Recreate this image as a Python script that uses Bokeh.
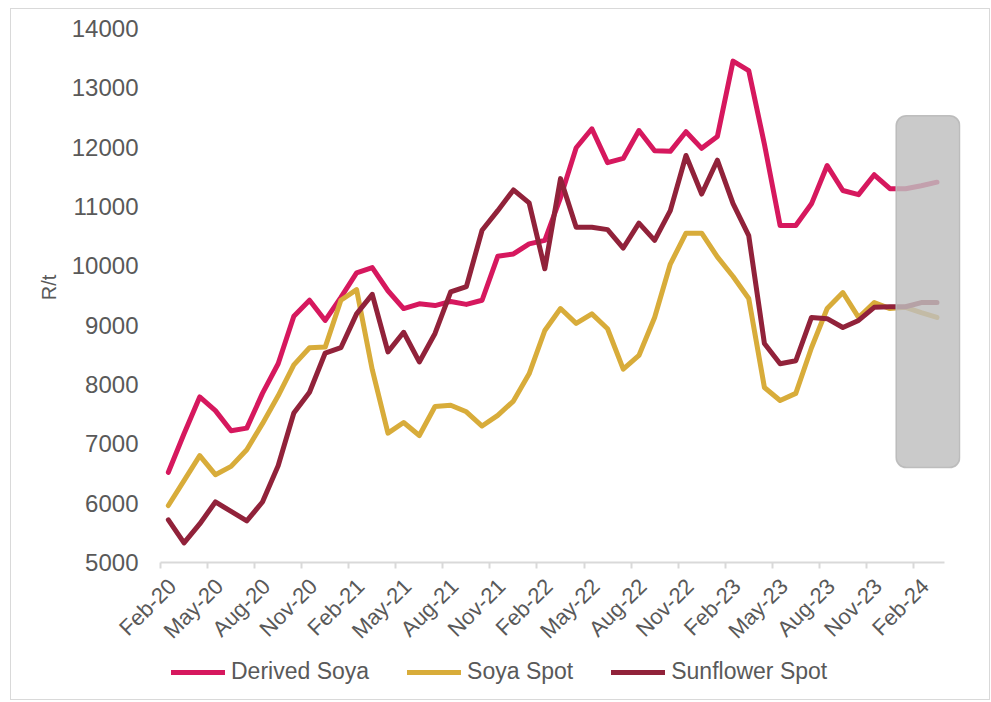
from math import pi
import pandas as pd
from bokeh.plotting import figure
from bokeh.models import FixedTicker, Legend, LegendItem, Range1d
from bokeh.core.properties import value
from bokeh.embed import file_html
from bokeh.resources import INLINE

# ---------------- data ----------------
months = [p.strftime("%b-%y") for p in pd.period_range("2020-02", "2024-03", freq="M")]

derived_soya = [6520, 7170, 7790, 7560, 7220, 7265, 7850, 8350, 9150, 9420,
                9080, 9470, 9880, 9970, 9580, 9280, 9360, 9330, 9400, 9350,
                9420, 10160, 10200, 10370, 10430, 11150, 11990, 12310, 11740, 11810,
                12280, 11940, 11930, 12260, 11980, 12180, 13450, 13290, 12050, 10680,
                10680, 11045, 11690, 11270, 11200, 11535, 11300, 11300, 11350, 11410]

soya_spot = [5960, 6380, 6800, 6480, 6620, 6900, 7340, 7810, 8330, 8620,
             8630, 9420, 9600, 8250, 7180, 7360, 7140, 7630, 7650, 7540,
             7300, 7480, 7720, 8180, 8910, 9280, 9030, 9190, 8940, 8260,
             8490, 9130, 10030, 10550, 10550, 10150, 9820, 9450, 7950, 7730,
             7850, 8620, 9280, 9550, 9130, 9380, 9280, 9300, 9210, 9130]

sunflower_spot = [5720, 5330, 5650, 6020, 5860, 5700, 6020, 6630, 7520, 7870,
                  8530, 8620, 9190, 9520, 8550, 8880, 8380, 8860, 9560, 9650,
                  10600, 10930, 11280, 11060, 9950, 11470, 10650, 10650, 10610, 10300,
                  10720, 10430, 10930, 11860, 11210, 11780, 11050, 10510, 8690, 8350,
                  8400, 9130, 9110, 8960, 9080, 9300, 9310, 9310, 9380, 9380]

series_names = ["Derived Soya", "Soya Spot", "Sunflower Spot"]
series_colors = ["#D6185E", "#D8AC3A", "#91223A"]

y_ticks = [5000, 6000, 7000, 8000, 9000, 10000, 11000, 12000, 13000, 14000]
y_title = "R/t"
tick_step = 3  # label every third month

forecast_start = "Jan-24"
forecast_band = (6600, 12530)

# ---------------- layout constants ----------------
FONT = "Liberation Sans"
GREY_TXT = "#595959"
AXIS_GREY = "#D9D9D9"
PLOT_W = 800          # px for 51 month slots
PLOT_H = 534          # px between 5000 and 14000
EXTRA_BELOW = 130     # px of frame below the 5000 line (labels + legend area)
EXTRA_LEFT = 130      # px of frame left of the first month (room for labels)
TITLE_DX = -112       # px, y-title centre relative to first month edge
TITLE_DY = 275        # px, y-title centre above the 5000 line

n_slots = len(months) + 1
px_per_slot = PLOT_W / n_slots
y_lo, y_hi = y_ticks[0], y_ticks[-1]
px_per_unit = PLOT_H / (y_hi - y_lo)
y_start = y_lo - EXTRA_BELOW / px_per_unit
x_start = -EXTRA_LEFT / px_per_slot

x = [i + 0.5 for i in range(len(months))]

p = figure(frame_width=PLOT_W + EXTRA_LEFT, frame_height=PLOT_H + EXTRA_BELOW,
           min_border_left=149 - EXTRA_LEFT, min_border_right=29,
           min_border_top=19, min_border_bottom=7,
           x_range=Range1d(x_start, n_slots), y_range=Range1d(y_start, y_hi),
           output_backend="svg", toolbar_location=None,
           background_fill_color="white", border_fill_color="white")
p.styles = {"border": "1px solid #D9D9D9", "margin": "8px 0px 0px 10px"}

renderers = []
for name, vals, col in zip(series_names, [derived_soya, soya_spot, sunflower_spot], series_colors):
    r = p.line(x, vals, line_color=col, line_width=5, line_join="round", line_cap="round")
    renderers.append(r)

# forecast highlight box
left = months.index(forecast_start) - 0.1
right = len(months) + 0.95
p.quad(left=[left], right=[right], bottom=[forecast_band[0]], top=[forecast_band[1]],
       fill_color="#BEBEBE", fill_alpha=0.82, line_color="#B8B8B8", line_alpha=0.9,
       line_width=1.5, border_radius=10)

p.xgrid.visible = False
p.ygrid.visible = False
p.outline_line_color = None

# x axis line + tick marks at month boundaries, sitting on the 5000 line
ticks = list(range(0, len(months), tick_step))
xa = p.xaxis[0]
xa.fixed_location = y_lo
xa.ticker = FixedTicker(ticks=ticks)
xa.major_label_overrides = {t: "" for t in ticks}
xa.bounds = (0, len(months))
xa.axis_line_color = AXIS_GREY
xa.axis_line_width = 2
xa.major_tick_line_color = AXIS_GREY
xa.major_tick_line_width = 2
xa.major_tick_out = 6
xa.major_tick_in = 0
xa.minor_tick_line_color = None
xa.major_label_text_font_size = "1px"
xa.major_label_standoff = 0

# rotated month labels
tick_labels = [months[t] for t in ticks]
p.text(x=[t + 0.75 for t in ticks], y=[y_lo] * len(ticks), text=tick_labels,
       angle=pi / 4, text_align="right", text_baseline="middle", y_offset=20,
       text_font=value(FONT), text_font_size="22px", text_color=GREY_TXT)

# y axis: sits at frame's left edge; labels pulled right to end near the first month
ya = p.yaxis[0]
ya.ticker = FixedTicker(ticks=y_ticks)
ya.bounds = (y_lo, y_hi)
ya.axis_line_color = None
ya.major_tick_line_color = None
ya.minor_tick_line_color = None
ya.major_tick_out = 0
ya.major_tick_in = 0
ya.major_label_standoff = 22 - EXTRA_LEFT
ya.major_label_text_font = FONT
ya.major_label_text_font_size = "24px"
ya.major_label_text_color = GREY_TXT

# y-axis title
p.text(x=[TITLE_DX / px_per_slot], y=[y_lo + TITLE_DY / px_per_unit], text=[y_title],
       angle=pi / 2, text_align="center", text_baseline="middle",
       text_font=value(FONT), text_font_size="20px", text_color=GREY_TXT)

legend = Legend(items=[LegendItem(label=n, renderers=[r]) for n, r in zip(series_names, renderers)],
                orientation="horizontal", location=(EXTRA_LEFT + 11, 7),
                glyph_width=54, glyph_height=24, label_height=24, label_standoff=6, spacing=38,
                padding=0, margin=0, border_line_alpha=0, background_fill_alpha=0,
                label_text_font=FONT, label_text_font_size="23px", label_text_color=GREY_TXT)
p.add_layout(legend)

open("out.html", "w").write(file_html(p, INLINE))
